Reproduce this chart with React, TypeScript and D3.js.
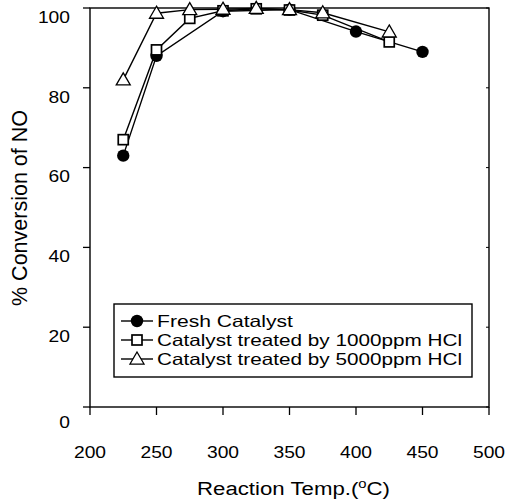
import React from "react";
import * as d3 from "d3";

const xTicks = [200, 250, 300, 350, 400, 450, 500];
const yTicks = [0, 20, 40, 60, 80, 100];

const freshX = [225, 250, 300, 350, 400, 450];
const freshY = [63, 88, 99.2, 99.6, 94.1, 89];

const hcl1000X = [225, 250, 275, 300, 325, 350, 375, 425];
const hcl1000Y = [67, 89.5, 97.4, 99.3, 99.8, 99.5, 98.2, 91.5];

const hcl5000X = [225, 250, 275, 300, 325, 350, 375, 425];
const hcl5000Y = [82, 98.7, 99.6, 99.7, 99.9, 99.6, 98.8, 94];

const seriesNames = [
  "Fresh Catalyst",
  "Catalyst treated by 1000ppm HCl",
  "Catalyst treated by 5000ppm HCl",
];

const W = 506;
const H = 503;
const M = { left: 90, right: 489, top: 8, bottom: 407 };
const FONT = "'Liberation Sans', Arial, sans-serif";

function Marker({ kind, x, y }: { kind: string; x: number; y: number }) {
  if (kind === "circle") return <circle cx={x} cy={y} r={6.2} fill="#000" />;
  if (kind === "square")
    return <rect x={x - 5} y={y - 5} width={10} height={10} fill="#fff" stroke="#000" strokeWidth={1.7} />;
  const s = 7;
  return (
    <path
      d={`M${x},${y - s}L${x + s},${y + s * 0.72}L${x - s},${y + s * 0.72}Z`}
      fill="#fff"
      stroke="#000"
      strokeWidth={1.3}
    />
  );
}

export default function App() {
  const x = d3.scaleLinear().domain([200, 500]).range([M.left, M.right]);
  const y = d3.scaleLinear().domain([0, 100]).range([M.bottom, M.top]);
  const line = d3
    .line<[number, number]>()
    .x((d) => x(d[0]))
    .y((d) => y(d[1]));

  const series = [
    { kind: "circle", xs: freshX, ys: freshY },
    { kind: "square", xs: hcl1000X, ys: hcl1000Y },
    { kind: "triangle", xs: hcl5000X, ys: hcl5000Y },
  ];

  const legendRows = [321, 340, 359];
  const digitW = 10.7;

  return (
    <svg width={W} height={H} style={{ position: "absolute", left: 0, top: 0, background: "#fff" }}>
      <rect x={0} y={0} width={W} height={H} fill="#fff" />
      {/* frame */}
      <rect x={M.left} y={M.top} width={M.right - M.left} height={M.bottom - M.top} fill="none" stroke="#000" strokeWidth={1.4} />
      {/* x ticks */}
      {xTicks.map((t) => (
        <g key={"xt" + t}>
          <line x1={x(t)} x2={x(t)} y1={M.bottom} y2={M.bottom + 8} stroke="#000" strokeWidth={1.3} />
          <text
            x={x(t) - (String(t).length * digitW) / 2}
            y={M.bottom + 51}
            fontFamily={FONT}
            fontSize={16.5}
            textLength={String(t).length * digitW}
            lengthAdjust="spacingAndGlyphs"
          >
            {t}
          </text>
        </g>
      ))}
      {/* y ticks */}
      {yTicks.map((t) => (
        <g key={"yt" + t}>
          <line x1={M.left - 7} x2={M.left} y1={y(t)} y2={y(t)} stroke="#000" strokeWidth={1.3} />
          <line x1={M.right - 3} x2={M.right} y1={y(t)} y2={y(t)} stroke="#000" strokeWidth={1} />
          <text
            x={70 - String(t).length * digitW}
            y={y(t) + (t === 0 ? 15 : 9)}
            dy="0.35em"
            fontFamily={FONT}
            fontSize={16.5}
            textLength={String(t).length * digitW}
            lengthAdjust="spacingAndGlyphs"
          >
            {t}
          </text>
        </g>
      ))}
      {/* axis titles */}
      <text x={197} y={495} fontFamily={FONT} fontSize={18} textLength={193} lengthAdjust="spacingAndGlyphs">
        Reaction Temp.(
        <tspan fontSize={12} dy={-7}>o</tspan>
        <tspan dy={7}>C)</tspan>
      </text>
      <text
        transform={`translate(27,208) rotate(-90)`}
        textAnchor="middle"
        fontFamily={FONT}
        fontSize={21.5}
      >
        % Conversion of NO
      </text>
      {/* series */}
      {series.map((s, i) => {
        const pts = s.xs.map((v, j) => [v, s.ys[j]] as [number, number]);
        return (
          <g key={"s" + i}>
            <path d={line(pts) || ""} fill="none" stroke="#000" strokeWidth={1.4} />
            {pts.map((p, j) => (
              <Marker key={j} kind={s.kind} x={x(p[0])} y={y(p[1])} />
            ))}
          </g>
        );
      })}
      {/* legend */}
      <rect x={114} y={304} width={358} height={73} fill="#fff" stroke="#000" strokeWidth={1.4} />
      {series.map((s, i) => (
        <g key={"lg" + i}>
          <line x1={121} x2={153} y1={legendRows[i]} y2={legendRows[i]} stroke="#000" strokeWidth={1.4} />
          <Marker kind={s.kind} x={137} y={legendRows[i]} />
          <text
            x={157}
            y={legendRows[i]}
            dy="0.36em"
            fontFamily={FONT}
            fontSize={16.5}
            textLength={i === 0 ? 136 : 305}
            lengthAdjust="spacingAndGlyphs"
          >
            {seriesNames[i]}
          </text>
        </g>
      ))}
    </svg>
  );
}
